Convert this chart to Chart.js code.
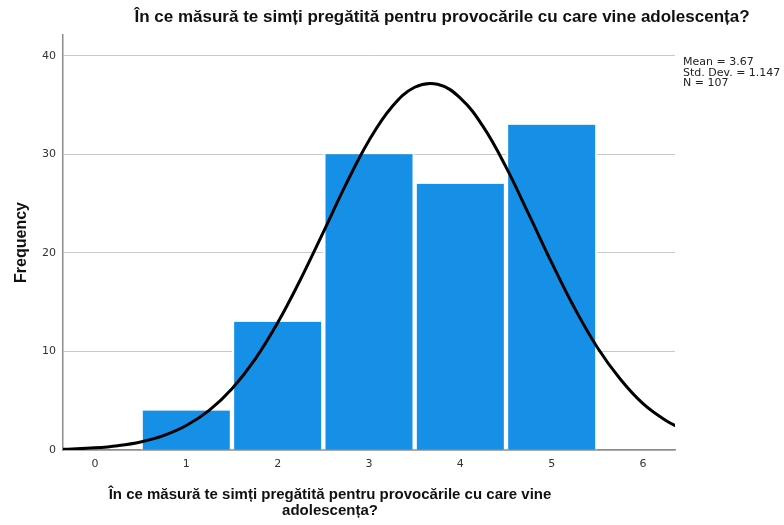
<!DOCTYPE html>
<html>
<head>
<meta charset="utf-8">
<script src="https://cdn.jsdelivr.net/npm/chart.js@4/dist/chart.umd.min.js"></script>
<style>
html,body{margin:0;padding:0;background:#fff;}
#wrap{width:784px;height:525px;position:relative;}
</style>
</head>
<body>
<div id="wrap"><canvas id="c" width="784" height="525"></canvas></div>
<script>
const chartTitle = "În ce măsură te simți pregătită pentru provocările cu care vine adolescența?";
const xTitle = ["În ce măsură te simți pregătită pentru provocările cu care vine", "adolescența?"];
const yTitle = "Frequency";
const statsLines = ["Mean = 3.67", "Std. Dev. = 1.147", "N = 107"];

const categories = [1, 2, 3, 4, 5];
const frequencies = [4, 13, 30, 27, 33];

const curveX = [-0.5, -0.25, 0, 0.25, 0.5, 0.75, 1, 1.25, 1.5, 1.75, 2, 2.25, 2.5, 2.75, 3, 3.25, 3.5, 3.75, 4, 4.25, 4.5, 4.75, 5, 5.25, 5.5, 5.75, 6, 6.25, 6.5];
const curveY = [0.05, 0.11, 0.22, 0.44, 0.82, 1.46, 2.48, 4.02, 6.22, 9.17, 12.9, 17.3, 22.1, 27.0, 31.4, 34.8, 36.8, 37.1, 35.7, 32.8, 28.7, 23.9, 19.0, 14.4, 10.4, 7.2, 4.7, 3.0, 1.8];

const xTicks = [0, 1, 2, 3, 4, 5, 6];
const yTicks = [0, 10, 20, 30, 40];

const FONT = "'Liberation Sans',Arial,sans-serif";
const FONT2 = "'DejaVu Sans',sans-serif";

const textPlugin = {
  id: 'texts',
  afterDraw(chart) {
    const ctx = chart.ctx;
    ctx.save();
    ctx.fillStyle = '#111';
    ctx.font = "bold 17px " + FONT;
    ctx.textAlign = 'center';
    ctx.textBaseline = 'middle';
    ctx.fillText(chartTitle, 442, 17);
    ctx.font = "bold 15px " + FONT;
    ctx.fillText(xTitle[0], 330, 495);
    ctx.fillText(xTitle[1], 330, 511);
    ctx.font = "11px " + FONT2;
    ctx.textAlign = 'left';
    ctx.fillStyle = '#222';
    statsLines.forEach((s, i) => ctx.fillText(s, 683, 62 + i * 10.7));
    ctx.restore();
  }
};

new Chart(document.getElementById('c'), {
  data: {
    datasets: [
      {
        type: 'line',
        data: curveX.map((x, i) => ({x: x, y: curveY[i]})),
        borderColor: '#000',
        borderWidth: 3,
        pointRadius: 0,
        tension: 0.4,
        fill: false,
        order: 0
      },
      {
        type: 'bar',
        data: categories.map((c, i) => ({x: c, y: frequencies[i]})),
        backgroundColor: '#1590e6',
        borderColor: '#ffffff',
        borderWidth: {left: 2.5, right: 2.5, top: 0, bottom: 0},
        borderSkipped: false,
        barPercentage: 1,
        categoryPercentage: 1,
        order: 1
      }
    ]
  },
  options: {
    responsive: false,
    animation: false,
    layout: {padding: {top: 35, right: 109, left: 0, bottom: 0}},
    plugins: {legend: {display: false}, tooltip: {enabled: false}, title: {display: false}},
    scales: {
      x: {
        type: 'linear',
        offset: false,
        min: -0.35,
        max: 6.35,
        afterBuildTicks(scale) { scale.ticks = xTicks.map(v => ({value: v})); },
        afterFit(scale) { scale.height = 75; },
        grid: {display: false, drawTicks: false},
        border: {display: true, color: '#8c8c8c', width: 1.5},
        ticks: {color: '#333', font: {family: FONT2, size: 11}, padding: 8, maxRotation: 0},
        title: {display: false}
      },
      y: {
        min: 0,
        max: 42.1,
        afterBuildTicks(scale) { scale.ticks = yTicks.map(v => ({value: v})); },
        afterFit(scale) { scale.width = 63; },
        grid: {color: '#c8c8c8', lineWidth: 1, drawTicks: false},
        border: {display: true, color: '#8c8c8c', width: 1.5},
        ticks: {color: '#333', font: {family: FONT2, size: 11}, padding: 7},
        title: {display: true, text: yTitle, color: '#111', font: {family: FONT, size: 16, weight: 'bold'}, padding: {top: 12, bottom: 0}}
      }
    }
  },
  plugins: [textPlugin]
});
</script>
</body>
</html>
